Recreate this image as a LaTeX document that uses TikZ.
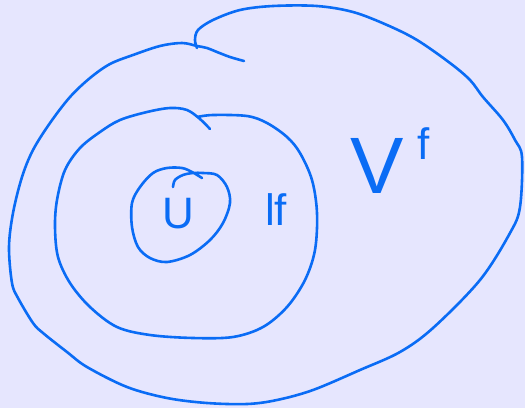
\documentclass[tikz,border=0pt]{standalone}
\usepackage{fontspec}
\setmainfont{Liberation Sans}
\definecolor{bg}{RGB}{230,230,254}
\definecolor{ink}{RGB}{10,108,245}
\begin{document}
\begin{tikzpicture}[x=1pt,y=-1pt,
  stroke/.style={draw=ink,line width=2.6pt,line cap=round,line join=round},
  label/.style={text=ink,inner sep=0pt,font=\fontsize{44}{44}\selectfont}]
\fill[bg] (0,0) rectangle (525,408);
\useasboundingbox (0,0) rectangle (525,408);
% outer curve
\draw[stroke] plot[smooth,tension=0.55] coordinates {
 (244,61) (230,57) (217,52) (207,48) (197,46) (182,43) (160,46) (133,55)
 (110,64) (90,78) (70,97) (50,123) (33,150) (22,177) (13,213) (9,247)
 (12,283) (18,298) (33,323) (43,333) (67,352) (87,367) (127,387) (167,398)
 (207,403) (247,404) (277,400) (313,390) (360,370) (400,352) (433,328)
 (480,280) (510,233) (520,207) (522,157) (515,140) (503,120) (483,97)
 (470,80) (450,63) (417,40) (387,25) (353,12) (317,6) (273,6) (240,10)
 (213,20) (198,30) (195,40) (197,48)};
% middle curve
\draw[stroke] plot[smooth,tension=0.55] coordinates {
 (197,117) (213,115) (247,116) (267,123) (287,137) (300,153) (312,180)
 (317,213) (315,250) (305,280) (287,307) (263,327) (233,337) (193,338)
 (150,335) (117,327) (90,307) (70,283) (58,257) (55,227) (57,200)
 (65,170) (80,148) (100,132) (120,120) (147,112) (170,108) (187,110)
 (200,119) (210,129)};
% inner loop
\draw[stroke] plot[smooth,tension=0.55] coordinates {
 (173,187) (175,180) (183,175) (193,173) (203,173) (217,175) (227,187)
 (230,203) (223,223) (210,240) (190,255) (167,262) (150,258) (138,247)
 (132,227) (132,203) (140,187) (153,173) (167,168) (182,168) (192,172)
 (202,178)};
\node[label] (u) at (178,214) {U};
\node[label] (lf) at (276,210) {lf};
\node[label,font=\fontsize{80}{80}\selectfont] (v) at (377,166) {V};
\node[label,font=\fontsize{44}{44}\selectfont] (vf) at (424,144) {f};
\end{tikzpicture}
\end{document}
